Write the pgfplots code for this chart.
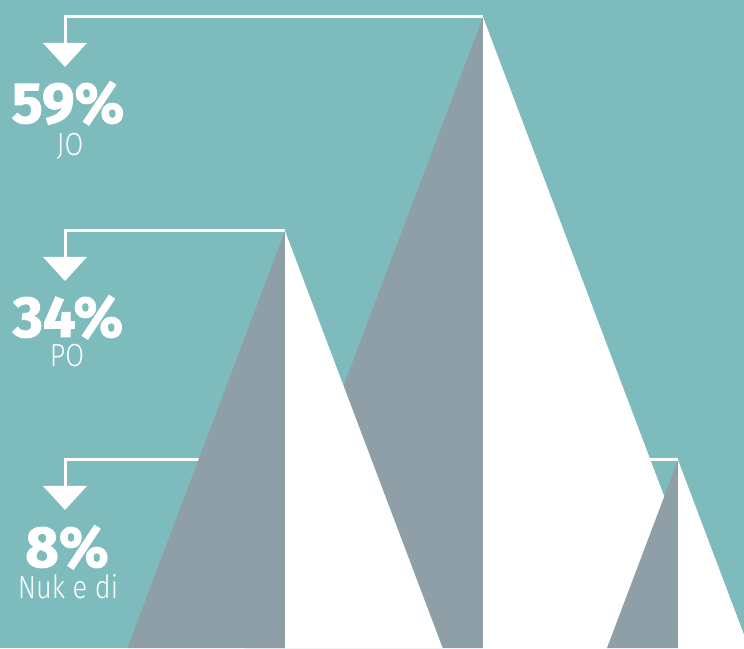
\documentclass[border=0pt]{standalone}
\usepackage{fontspec}
\setmainfont{Fira Sans}
\newfontfamily\heavyfam{Fira Sans}[BoldFeatures={FakeBold=1.6}]
\newfontfamily\lightfam{Fira Sans Light}[FakeStretch=0.85]
\newcommand\heavy{\heavyfam\bfseries}
\newcommand\light{\lightfam}
\usepackage{pgfplots}
\pgfplotsset{compat=1.18}

\definecolor{bgteal}{HTML}{7EBBBD}
\definecolor{rockgray}{HTML}{8F9FA8}

\begin{document}
\begin{tikzpicture}
\begin{axis}[
    scale only axis,
    width=372pt, height=324pt,
    xmin=0, xmax=744, ymin=0, ymax=648,
    axis line style={draw=none},
    ticks=none,
    axis background/.style={fill=bgteal},
  ]
  % leader lines (peak -> label), behind the peaks
  \addplot[white, line width=1.5pt, line join=miter] coordinates {(65,605) (65,631) (483,631)};
  \addplot[white, line width=1.5pt, line join=miter] coordinates {(65,391) (65,417) (285,417)};
  \addplot[white, line width=1.5pt, line join=miter] coordinates {(65,162) (65,188) (678,188)};

  % JO 59%
  \addplot[fill=rockgray, draw=none] coordinates {(244.5,0) (483,631) (483,0)} -- cycle;
  \addplot[fill=white, draw=none] coordinates {(483,0) (483,631) (721.5,0)} -- cycle;
  % PO 34%
  \addplot[fill=rockgray, draw=none] coordinates {(127.4,0) (285,417) (285,0)} -- cycle;
  \addplot[fill=white, draw=none] coordinates {(285,0) (285,417) (442.6,0)} -- cycle;
  % Nuk e di 8%
  \addplot[fill=rockgray, draw=none] coordinates {(607,0) (678,188) (678,0)} -- cycle;
  \addplot[fill=white, draw=none] coordinates {(678,0) (678,188) (749,0)} -- cycle;

  % arrow heads
  \addplot[fill=white, draw=none] coordinates {(43,605) (87,605) (65,581)} -- cycle;
  \addplot[fill=white, draw=none] coordinates {(43,391) (87,391) (65,367)} -- cycle;
  \addplot[fill=white, draw=none] coordinates {(43,162) (87,162) (65,138)} -- cycle;

  \node[anchor=base, text=white, font=\heavy\fontsize{29}{29}\selectfont, inner sep=0pt] at (axis cs:68,525) {59\%};
  \node[anchor=base, text=white, font=\light\fontsize{16}{16}\selectfont, inner sep=0pt] at (axis cs:70,492) {JO};
  \node[anchor=base, text=white, font=\heavy\fontsize{29}{29}\selectfont, inner sep=0pt] at (axis cs:68,311) {34\%};
  \node[anchor=base, text=white, font=\light\fontsize{16}{16}\selectfont, inner sep=0pt] at (axis cs:67,281) {PO};
  \node[anchor=base, text=white, font=\heavy\fontsize{29}{29}\selectfont, inner sep=0pt] at (axis cs:67,81) {8\%};
  \node[anchor=base, text=white, font=\light\fontsize{16}{16}\selectfont, inner sep=0pt] at (axis cs:68,50) {Nuk e di};
\end{axis}
\end{tikzpicture}
\end{document}
